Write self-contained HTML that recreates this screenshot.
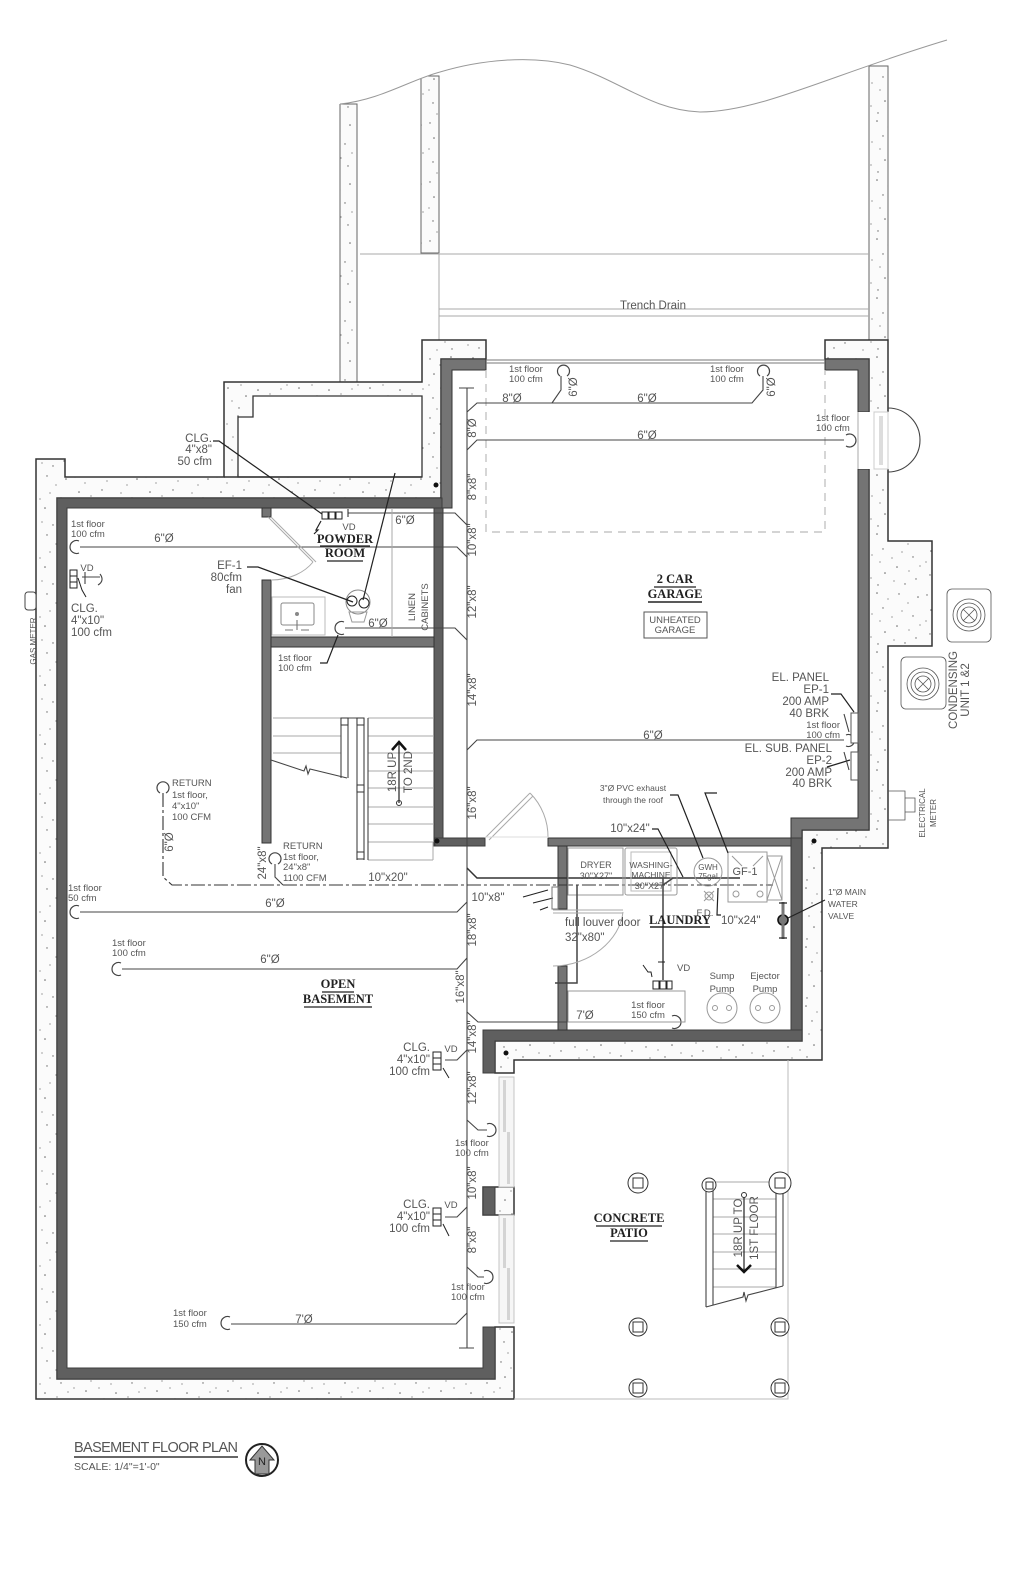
<!DOCTYPE html>
<html lang="en">
<head>
<meta charset="utf-8">
<title>Basement Floor Plan</title>
<style>
html,body{margin:0;padding:0;background:#fff;width:1024px;height:1591px;overflow:hidden}
svg{display:block;filter:blur(.35px)}
text{font-family:"Liberation Sans",sans-serif;font-size:10.5px;fill:#555}
.s{font-size:9.5px}
.m{font-size:11.5px}
.t{font-family:"Liberation Serif",serif;font-weight:bold;font-size:12.5px;fill:#222;text-anchor:middle}
.c{text-anchor:middle}
.r{text-anchor:end}
.l{fill:none;stroke:#444;stroke-width:1.1}
.d{fill:none;stroke:#333;stroke-width:1.5}
.g{fill:none;stroke:#aaa;stroke-width:1}
.k{fill:none;stroke:#222;stroke-width:1.2}
.w{fill:#5f5f5f;stroke:#3c3c3c;stroke-width:1}
.v{fill:#747474;stroke:#333;stroke-width:1}
.p{fill:url(#conc);stroke:#333;stroke-width:1.5}
.u{fill:url(#conc);stroke:#666;stroke-width:1}
</style>
</head>
<body>
<svg xmlns="http://www.w3.org/2000/svg" width="1024" height="1591" viewBox="0 0 1024 1591">
<defs>
<pattern id="conc" width="71" height="59" patternUnits="userSpaceOnUse">
<rect width="71" height="59" fill="#fbfbfb"/>
<g fill="#666">
<circle cx="4" cy="5" r=".7"/><circle cx="14" cy="11" r=".6"/><circle cx="25" cy="3" r=".8"/><circle cx="36" cy="9" r=".6"/>
<circle cx="8" cy="20" r=".8"/><circle cx="20" cy="24" r=".6"/><circle cx="31" cy="18" r=".7"/><circle cx="40" cy="27" r=".6"/>
<circle cx="3" cy="31" r=".6"/><circle cx="15" cy="34" r=".8"/><circle cx="28" cy="31" r=".6"/><circle cx="47" cy="4" r=".7"/>
<circle cx="56" cy="13" r=".6"/><circle cx="66" cy="7" r=".8"/><circle cx="50" cy="21" r=".6"/><circle cx="61" cy="26" r=".7"/>
<circle cx="45" cy="36" r=".8"/><circle cx="57" cy="40" r=".6"/><circle cx="68" cy="35" r=".6"/><circle cx="7" cy="44" r=".7"/>
<circle cx="19" cy="47" r=".6"/><circle cx="33" cy="42" r=".8"/><circle cx="42" cy="50" r=".6"/><circle cx="53" cy="53" r=".7"/>
<circle cx="64" cy="48" r=".7"/><circle cx="11" cy="55" r=".6"/><circle cx="26" cy="54" r=".7"/>
</g>
</pattern>
</defs>
<rect width="1024" height="1591" fill="#fff"/>

<!-- upper retaining walls -->
<rect x="340" y="104" width="17" height="278" class="u"/>
<rect x="421" y="76" width="18" height="177" class="u"/>
<rect x="869" y="66" width="19" height="274" class="u"/>
<path d="M300 30H947L947 40C830 75 760 112 700 112C650 110 620 80 570 65C530 55 480 60 440 72C410 80 380 100 340 104L300 104Z" fill="#fff"/>
<path d="M340 104C380 100 410 80 440 72C480 60 530 55 570 65C620 80 650 110 700 112C760 112 830 75 947 40" fill="none" stroke="#999" stroke-width="1"/>
<path d="M360 254H869M439 253V340M439 309H869M439 316H869" class="g"/>
<text x="653" y="309" class="c m">Trench Drain</text>

<!-- concrete: main left block -->
<path d="M36 459H65V477H224V382H422V340H486V359H441V498H57V1379H495V1327H514V1399H36Z" class="p"/>
<path d="M238 477V417H253V396H422V477Z" fill="#fff" stroke="#333" stroke-width="1.3"/>
<path d="M224 477H422" class="d"/>
<!-- concrete: right block -->
<path d="M825 359V340H888V541H932V646H888V848H822V1060H514V1073H495V1041H802V830H869V359Z" class="p"/>
<!-- mid pier -->
<rect x="483" y="1187" width="31" height="28" class="p"/>

<!-- dark walls -->
<path d="M441 359H486V370H452V508H57V498H441Z" class="v"/>
<path d="M57 498H442V508H67V1368H483V1327H495V1379H57Z" class="w"/>
<rect x="483" y="1187" width="12" height="28" class="w"/>
<path d="M483 1030H802V1041H495V1073H483Z" class="w"/>
<rect x="434" y="508" width="9" height="338" class="w"/>
<rect x="435" y="838" width="50" height="8" class="w"/>
<rect x="271" y="637" width="163" height="10" class="v"/>
<rect x="262" y="580" width="9" height="263" class="v"/>
<rect x="262" y="508" width="9" height="9" class="v"/>
<path d="M825 359H869V412H858V370H825Z" class="v"/>
<path d="M858 469H869V830H802V1030H791V846H548V838H791V818H858Z" class="v"/>
<rect x="791" y="838" width="11" height="192" class="w"/>
<rect x="558" y="846" width="9" height="63" class="v"/>
<rect x="558" y="966" width="9" height="64" class="v"/>
<circle cx="436" cy="485" r="2.5" fill="#111"/><circle cx="437" cy="841" r="2.5" fill="#111"/>
<circle cx="814" cy="841" r="2.5" fill="#111"/><circle cx="506" cy="1053" r="2.5" fill="#111"/>

<!-- garage door/top -->
<path d="M486 360H825M486 363H825" class="l" style="stroke:#777"/>
<path d="M486 370V532H825V370" fill="none" stroke="#bbb" stroke-width="1.2" stroke-dasharray="8 6"/>
<!-- side door -->
<rect x="858" y="412" width="31" height="57" fill="#fff"/>
<rect x="874" y="412" width="14" height="57" fill="#fff" stroke="#ccc"/>
<rect x="879" y="416" width="4" height="49" fill="#ddd"/>
<path d="M888 408A32 32 0 0 1 888 472" class="l"/>
<path d="M858 412V469" class="g"/>
<!-- condensers -->
<g fill="none" stroke="#555" stroke-width=".8">
<rect x="901" y="657" width="45" height="52" rx="5"/>
<circle cx="923" cy="684" r="16"/><circle cx="923" cy="684" r="12"/><circle cx="923" cy="684" r="8"/>
<path d="M917 678L929 690M929 678L917 690"/>
<rect x="947" y="589" width="44" height="53" rx="5"/>
<circle cx="969" cy="615" r="16"/><circle cx="969" cy="615" r="12"/><circle cx="969" cy="615" r="8"/>
<path d="M963 609L975 621M975 609L963 621"/>
<path d="M888 791H905V820H888M905 798H915V812H905"/>
</g>
<text transform="translate(957 690) rotate(-90)" class="c m">CONDENSING</text>
<text transform="translate(969 690) rotate(-90)" class="c m">UNIT 1 &amp;2</text>
<text transform="translate(925 813) rotate(-90)" class="c s" style="font-size:8px">ELECTRICAL</text>
<text transform="translate(936 813) rotate(-90)" class="c s" style="font-size:8px">METER</text>

<!-- gas meter -->
<rect x="25" y="592" width="11" height="18" rx="3" fill="#fff" stroke="#444"/>
<text transform="translate(36 641) rotate(-90)" class="c s" style="font-size:8px">GAS METER</text>

<!-- main duct trunk -->
<path d="M467 388V1348M459 388H474M459 1348H474" class="l"/>
<!-- branches -->
<path d="M467 412L477 403H752L763 390V376" class="l"/>
<path d="M552 403L561 390V376" class="l"/>
<path d="M467 450L477 440H844" class="l"/>
<path d="M467 525L455 513H348" class="l"/>
<path d="M467 557L457 547H80" class="l"/>
<path d="M467 640L455 628H345" class="l"/>
<path d="M467 750L477 740H844" class="l"/>
<path d="M467 868L477 878H740" class="d"/>
<path d="M467 902L457 912H80" class="l"/>
<path d="M467 958L457 969H122" class="l"/>
<path d="M467 1012L478 1022H671" class="l"/>
<path d="M467 1050L457 1060H445" class="l"/>
<path d="M467 1120L478 1130H487" class="l"/>
<path d="M467 1207L457 1217H445" class="l"/>
<path d="M467 1267L478 1277H484" class="l"/>
<path d="M467 1313L456 1324H231" class="l"/>
<!-- registers (C marks) -->
<g fill="none" stroke="#444" stroke-width="1.2">
<path d="M560 376A6 6 0 1 1 567 376"/><path d="M760 376A6 6 0 1 1 767 376"/>
<path d="M846 435A6.5 6.5 0 1 1 846 446"/>
<path d="M79 541A6.5 6.5 0 1 0 79 553"/>
<path d="M344 622A6.5 6.5 0 1 0 344 634"/>
<path d="M846 735A6 6 0 1 1 846 746"/>
<path d="M79 906A6.5 6.5 0 1 0 79 918"/>
<path d="M121 963A6.5 6.5 0 1 0 121 975"/>
<path d="M672 1016A6.5 6.5 0 1 1 672 1028"/>
<path d="M487 1124A6.5 6.5 0 1 1 487 1136"/>
<path d="M484 1271A6.5 6.5 0 1 1 484 1283"/>
<path d="M230 1317A6.5 6.5 0 1 0 230 1329"/>
<path d="M160 793A6 6 0 1 1 166 793"/>
<path d="M272 864A6 6 0 1 1 278 864"/>
</g>

<!-- return line -->
<path d="M163 793V877L172 885H773" fill="none" stroke="#333" stroke-width="1.1" stroke-dasharray="14 3 3 3"/>
<path d="M275 864V877L283 885" class="l"/>

<!-- powder room -->
<path d="M392 508V637" class="g"/>
<path d="M268 517L313 562M271 517L316 562" class="g"/>
<path d="M313 562C305 572 290 580 271 580" class="g"/>
<rect x="272" y="597" width="53" height="38" fill="none" stroke="#bbb"/>
<rect x="281" y="603" width="33" height="22" rx="2" fill="none" stroke="#888"/>
<circle cx="297" cy="614" r="2" fill="#888"/>
<path d="M297 620V630M285 630H293M301 630H309" class="l" style="stroke:#777"/>
<circle cx="358" cy="602" r="12" fill="none" stroke="#888"/>
<circle cx="352" cy="601" r="5" fill="none" stroke="#222"/>
<circle cx="364" cy="603" r="5" fill="none" stroke="#222"/>
<path d="M349 612H367L364 622H352Z" fill="none" stroke="#999"/>
<g fill="none" stroke="#222">
<rect x="322" y="512" width="6" height="7"/><rect x="329" y="512" width="6" height="7"/><rect x="336" y="512" width="6" height="7"/>
<path d="M348 509V517"/>
</g>
<path d="M213 441H219L322 514" class="k"/>
<path d="M247 567H258L353 602" class="k"/>
<path d="M395 473L363 600" class="k"/>
<path d="M320 663H327L338 635" class="k"/>
<path d="M321 521L316 530L318 530L314 534" class="k"/>
<!-- left register -->
<g fill="none" stroke="#222">
<rect x="70" y="570" width="7" height="6"/><rect x="70" y="576" width="7" height="6"/><rect x="70" y="582" width="7" height="6"/>
<path d="M78 578L82 590L86 597"/>
</g>
<path d="M82 577H100M85 572V584M100 574C103 578 103 582 98 585" class="l"/>

<!-- stairs -->
<path d="M273 718H341M273 736H341M273 753H341" class="g"/>
<path d="M368 718H433M368 736H433M368 753H433M368 771H433M368 788H433M368 807H433M368 824H433M368 842H433M368 860H433M433 842V860" class="g"/>
<path d="M364 718V860M357 718V860M368 718V860" class="l"/>
<path d="M341 718V778M348 718V778M341 718H364" class="l"/>
<g fill="#fff" stroke="#333">
<rect x="341" y="718" width="7" height="7"/><rect x="357" y="718" width="7" height="7"/>
<rect x="357" y="785" width="7" height="7"/><rect x="357" y="852" width="7" height="7"/>
</g>
<path d="M271 760L304 771L306 766L308 774L310 769L347 778" class="l"/>
<path d="M399 803V744" class="k"/>
<path d="M392 750L399 742L406 750" fill="none" stroke="#111" stroke-width="2.5"/>
<circle cx="399" cy="803" r="2.5" fill="none" stroke="#333"/>
<text transform="translate(396 772) rotate(-90)" class="c m">18R UP</text>
<text transform="translate(412 772) rotate(-90)" class="c m">TO 2ND</text>

<!-- exterior door to garage -->
<path d="M485 838L530 793M489 840L533 796" class="g"/>
<path d="M530 793A62 62 0 0 1 548 838" class="g"/>
<path d="M485 837H548" class="g" style="stroke:#ddd"/>

<!-- laundry appliances -->
<g fill="none" stroke="#999">
<rect x="568" y="848" width="55" height="47"/>
<rect x="625" y="848" width="52" height="47" rx="2"/><rect x="631" y="852" width="40" height="39" stroke="#bbb"/>
<circle cx="708" cy="872" r="14"/>
<rect x="728" y="852" width="39" height="50"/><rect x="767" y="856" width="15" height="44"/>
<path d="M767 856L782 900M782 856L767 900"/>
<path d="M732 856L742 866M763 856L753 866"/>
<circle cx="736" cy="894" r="3"/><circle cx="760" cy="894" r="3"/>
<circle cx="709" cy="896" r="4"/><path d="M704 891L714 901M714 891L704 901"/>
<circle cx="722" cy="1008" r="15"/><circle cx="765" cy="1008" r="15"/>
<circle cx="715" cy="1008" r="2.5"/><circle cx="729" cy="1008" r="2.5"/>
<circle cx="758" cy="1008" r="2.5"/><circle cx="772" cy="1008" r="2.5"/>
<rect x="568" y="991" width="117" height="31"/>
</g>
<path d="M652 829H658L683 877" class="k"/>
<path d="M670 795H678L703 858" class="k"/>
<path d="M717 793H705L728 853" class="k"/>
<path d="M718 888L717 915H721" class="k"/>
<path d="M663 878V980M663 885L673 878" class="d" style="stroke:#444"/>
<path d="M577 885V983H555" class="d" style="stroke:#444"/>
<path d="M553 910H623M553 913H623" class="g"/>
<path d="M623 912C620 940 590 966 553 966" class="g"/>
<g fill="none" stroke="#222">
<rect x="653" y="981" width="6" height="8"/><rect x="660" y="981" width="6" height="8"/><rect x="667" y="981" width="5" height="8"/>
<path d="M658 962H665M643 965L648 972L651 972L652 977"/>
<path d="M523 897L548 890M533 903L553 898M540 910L548 907"/>
<rect x="552" y="887" width="6" height="22" stroke="#777"/>
</g>
<!-- water valve -->
<circle cx="783" cy="920" r="5" fill="#777" stroke="#111" stroke-width="1.6"/>
<path d="M783 902V939" fill="none" stroke="#777" stroke-width="3"/>
<path d="M779 903H787M779 938H787" class="k"/>
<path d="M825 900L788 918" class="k"/>

<!-- panels -->
<g fill="#fff" stroke="#555">
<rect x="851" y="713" width="7" height="30"/><rect x="851" y="752" width="7" height="28"/>
</g>
<path d="M831 694H841L854 712" class="k"/>
<path d="M827 767L850 760" class="k"/>
<path d="M844 714L849 732M844 752L849 770" class="l"/>

<!-- patio -->
<path d="M788 1060V1399H514" fill="none" stroke="#bbb" stroke-width="1"/>
<g fill="#f6f6f6" stroke="#c4c4c4">
<rect x="499" y="1077" width="15" height="110"/>
<rect x="499" y="1215" width="15" height="108"/>
<rect x="503" y="1080" width="3" height="52" fill="#d4d4d4" stroke="none"/>
<rect x="507" y="1132" width="3" height="52" fill="#d4d4d4" stroke="none"/>
<rect x="503" y="1218" width="3" height="50" fill="#d4d4d4" stroke="none"/>
<rect x="507" y="1268" width="3" height="52" fill="#d4d4d4" stroke="none"/>
</g>
<g fill="#fff" stroke="#333">
<circle cx="638" cy="1183" r="10"/><rect x="633" y="1178" width="10" height="10"/>
<circle cx="638" cy="1327" r="9"/><rect x="633" y="1322" width="10" height="10"/>
<circle cx="638" cy="1388" r="9"/><rect x="633" y="1383" width="10" height="10"/>
</g>
<path d="M713 1182H776M713 1199H776M713 1217H776M713 1234H776M713 1252H776M713 1269H776M713 1287H776" class="g"/>
<path d="M706 1185V1307M713 1185V1305M776 1185V1288M783 1185V1286" class="l"/>
<g fill="#fff" stroke="#333">
<circle cx="709" cy="1185" r="7"/><rect x="706" y="1182" width="7" height="7"/>
<circle cx="780" cy="1183" r="11"/><rect x="775" y="1178" width="10" height="10"/>
<circle cx="780" cy="1327" r="9"/><rect x="775" y="1322" width="10" height="10"/>
<circle cx="780" cy="1388" r="9"/><rect x="775" y="1383" width="10" height="10"/>
</g>
<path d="M706 1307L743 1297L744 1292L746 1301L748 1295L783 1286" class="l"/>
<path d="M744 1195V1272" class="k"/>
<circle cx="744" cy="1195" r="2.5" fill="#fff" stroke="#333"/>
<path d="M737 1265L744 1272L751 1265" fill="none" stroke="#111" stroke-width="2.5"/>
<text transform="translate(742 1228) rotate(-90)" class="c m">18R UP TO</text>
<text transform="translate(758 1228) rotate(-90)" class="c m">1ST FLOOR</text>

<!-- ceiling registers -->
<g fill="none" stroke="#222">
<rect x="433" y="1052" width="8" height="6"/><rect x="433" y="1058" width="8" height="6"/><rect x="433" y="1064" width="8" height="6"/>
<rect x="433" y="1208" width="8" height="6"/><rect x="433" y="1214" width="8" height="6"/><rect x="433" y="1220" width="8" height="6"/>
<path d="M443 1068L449 1078M443 1224L449 1236"/>
</g>

<!-- labels -->
<text x="212" y="442" class="r m">CLG.</text><text x="212" y="453" class="r m">4"x8"</text><text x="212" y="465" class="r m">50 cfm</text>
<text x="71" y="527" class="s">1st floor</text><text x="71" y="537" class="s">100 cfm</text>
<text x="164" y="542" class="c m">6"Ø</text>
<text x="405" y="524" class="c m">6"Ø</text>
<text x="349" y="530" class="c s">VD</text>
<text x="345" y="543" class="t">POWDER</text><path d="M320 546H370" class="k"/>
<text x="345" y="557" class="t">ROOM</text><path d="M327 561H363" class="k"/>
<text x="242" y="569" class="r m">EF-1</text><text x="242" y="581" class="r m">80cfm</text><text x="242" y="593" class="r m">fan</text>
<text x="87" y="571" class="c s">VD</text>
<text x="71" y="612" class="m">CLG.</text><text x="71" y="624" class="m">4"x10"</text><text x="71" y="636" class="m">100 cfm</text>
<text x="378" y="627" class="c m">6"Ø</text>
<text transform="translate(415 607) rotate(-90)" class="c s">LINEN</text>
<text transform="translate(428 607) rotate(-90)" class="c s">CABINETS</text>
<text x="278" y="661" class="s">1st floor</text><text x="278" y="671" class="s">100 cfm</text>

<text x="509" y="372" class="s">1st floor</text><text x="509" y="382" class="s">100 cfm</text>
<text x="710" y="372" class="s">1st floor</text><text x="710" y="382" class="s">100 cfm</text>
<text x="816" y="421" class="s">1st floor</text><text x="816" y="431" class="s">100 cfm</text>
<text x="512" y="402" class="c m">8"Ø</text><text x="647" y="402" class="c m">6"Ø</text><text x="647" y="439" class="c m">6"Ø</text><text x="653" y="739" class="c m">6"Ø</text>
<text transform="translate(577 387) rotate(-90)" class="c m">6"Ø</text>
<text transform="translate(775 387) rotate(-90)" class="c m">6"Ø</text>

<g class="c">
<text transform="translate(476 428) rotate(-90)" class="c m">8"Ø</text>
<text transform="translate(476 487) rotate(-90)" class="c m">8"x8"</text>
<text transform="translate(476 540) rotate(-90)" class="c m">10"x8"</text>
<text transform="translate(476 602) rotate(-90)" class="c m">12"x8"</text>
<text transform="translate(476 690) rotate(-90)" class="c m">14"x8"</text>
<text transform="translate(476 803) rotate(-90)" class="c m">16"x8"</text>
<text transform="translate(476 930) rotate(-90)" class="c m">18"x8"</text>
<text transform="translate(464 987) rotate(-90)" class="c m">16"x8"</text>
<text transform="translate(476 1037) rotate(-90)" class="c m">14"x8"</text>
<text transform="translate(476 1088) rotate(-90)" class="c m">12"x8"</text>
<text transform="translate(476 1183) rotate(-90)" class="c m">10"x8"</text>
<text transform="translate(476 1240) rotate(-90)" class="c m">8"x8"</text>
</g>

<text x="675" y="583" class="t">2 CAR</text><path d="M654 587H696" class="k"/>
<text x="675" y="598" class="t">GARAGE</text><path d="M648 602H702" stroke="#222" stroke-width="1.6"/>
<rect x="644" y="612" width="63" height="26" fill="none" stroke="#555"/>
<text x="675" y="623" class="c s">UNHEATED</text><text x="675" y="633" class="c s">GARAGE</text>

<text x="829" y="681" class="r m">EL. PANEL</text><text x="829" y="693" class="r m">EP-1</text><text x="829" y="705" class="r m">200 AMP</text><text x="829" y="717" class="r m">40 BRK</text>
<text x="840" y="728" class="r s">1st floor</text><text x="840" y="738" class="r s">100 cfm</text>
<text x="832" y="752" class="r m">EL. SUB. PANEL</text><text x="832" y="764" class="r m">EP-2</text><text x="832" y="776" class="r m">200 AMP</text><text x="832" y="787" class="r m">40 BRK</text>

<text x="633" y="791" class="c s" style="font-size:8.5px">3"Ø PVC exhaust</text><text x="633" y="803" class="c s" style="font-size:8.5px">through  the roof</text>
<text x="630" y="832" class="c m">10"x24"</text>
<text x="596" y="868" class="c s" style="font-size:9px">DRYER</text><text x="596" y="879" class="c s" style="font-size:9px">30"X27"</text>
<text x="651" y="868" class="c s" style="font-size:8.5px">WASHING-</text><text x="651" y="878" class="c s" style="font-size:8.5px">MACHINE</text><text x="651" y="889" class="c s" style="font-size:9px">30"X27"</text>
<text x="708" y="870" class="c s" style="font-size:8px">GWH</text><text x="708" y="879" class="c s" style="font-size:8px">75gal</text>
<text x="745" y="875" class="c" style="font-size:11px">GF-1</text>
<text x="705" y="916" class="c s">F.D.</text>
<text x="721" y="924" style="font-size:11.5px">10"x24"</text>
<text x="680" y="924" class="t">LAUNDRY</text><path d="M650 927H710" stroke="#222" stroke-width="1.5"/>
<text x="488" y="901" class="c m">10"x8"</text>
<text x="565" y="926" class="m">full louver door</text><text x="565" y="941" class="m">32"x80"</text>
<text x="677" y="971" class="s">VD</text>
<text x="722" y="979" class="c s">Sump</text><text x="722" y="992" class="c s">Pump</text>
<text x="765" y="979" class="c s">Ejector</text><text x="765" y="992" class="c s">Pump</text>
<text x="648" y="1008" class="c s">1st floor</text><text x="648" y="1018" class="c s">150 cfm</text>
<text x="585" y="1019" class="c m">7'Ø</text>
<text x="828" y="895" class="s" style="font-size:8.5px">1"Ø MAIN</text><text x="828" y="907" class="s" style="font-size:8.5px">WATER</text><text x="828" y="919" class="s" style="font-size:8.5px">VALVE</text>

<text x="172" y="786" class="s">RETURN</text><text x="172" y="798" class="s">1st floor,</text><text x="172" y="809" class="s">4"x10"</text><text x="172" y="820" class="s">100 CFM</text>
<text x="283" y="849" class="s">RETURN</text><text x="283" y="860" class="s">1st floor,</text><text x="283" y="870" class="s">24"x8"</text><text x="283" y="881" class="s">1100 CFM</text>
<text transform="translate(173 842) rotate(-90)" class="c m">6"Ø</text>
<text transform="translate(266 863) rotate(-90)" class="c m">24"x8"</text>
<text x="388" y="881" class="c m">10"x20"</text>
<text x="68" y="891" class="s">1st floor</text><text x="68" y="901" class="s">50 cfm</text>
<text x="275" y="907" class="c m">6"Ø</text>
<text x="112" y="946" class="s">1st floor</text><text x="112" y="956" class="s">100 cfm</text>
<text x="270" y="963" class="c m">6"Ø</text>
<text x="338" y="988" class="t">OPEN</text><path d="M322 992H354" class="k"/>
<text x="338" y="1003" class="t">BASEMENT</text><path d="M304 1007H372" class="k"/>

<text x="430" y="1051" class="r m">CLG.</text><text x="430" y="1063" class="r m">4"x10"</text><text x="430" y="1075" class="r m">100 cfm</text>
<text x="451" y="1052" class="c s">VD</text>
<text x="430" y="1208" class="r m">CLG.</text><text x="430" y="1220" class="r m">4"x10"</text><text x="430" y="1232" class="r m">100 cfm</text>
<text x="451" y="1208" class="c s">VD</text>
<text x="455" y="1146" class="s">1st floor</text><text x="455" y="1156" class="s">100 cfm</text>
<text x="451" y="1290" class="s">1st floor</text><text x="451" y="1300" class="s">100 cfm</text>
<text x="173" y="1316" class="s">1st floor</text><text x="173" y="1327" class="s">150 cfm</text>
<text x="304" y="1323" class="c m">7'Ø</text>
<text x="629" y="1222" class="t">CONCRETE</text><path d="M596 1226H662" class="k"/>
<text x="629" y="1237" class="t">PATIO</text><path d="M610 1241H648" class="k"/>

<!-- title -->
<text x="74" y="1452" style="font-size:14.5px" textLength="164">BASEMENT FLOOR PLAN</text>
<path d="M74 1457H238" stroke="#333" stroke-width="1.5"/>
<text x="74" y="1470" style="font-size:10.5px">SCALE: 1/4"=1'-0"</text>
<circle cx="262" cy="1460" r="16" fill="none" stroke="#222" stroke-width="2"/>
<path d="M250 1460L262 1446L274 1460H269V1474H255V1460Z" fill="#999" stroke="#333"/>
<text x="262" y="1465" class="c" style="font-size:11px;fill:#222">N</text>
</svg>
</body>
</html>
